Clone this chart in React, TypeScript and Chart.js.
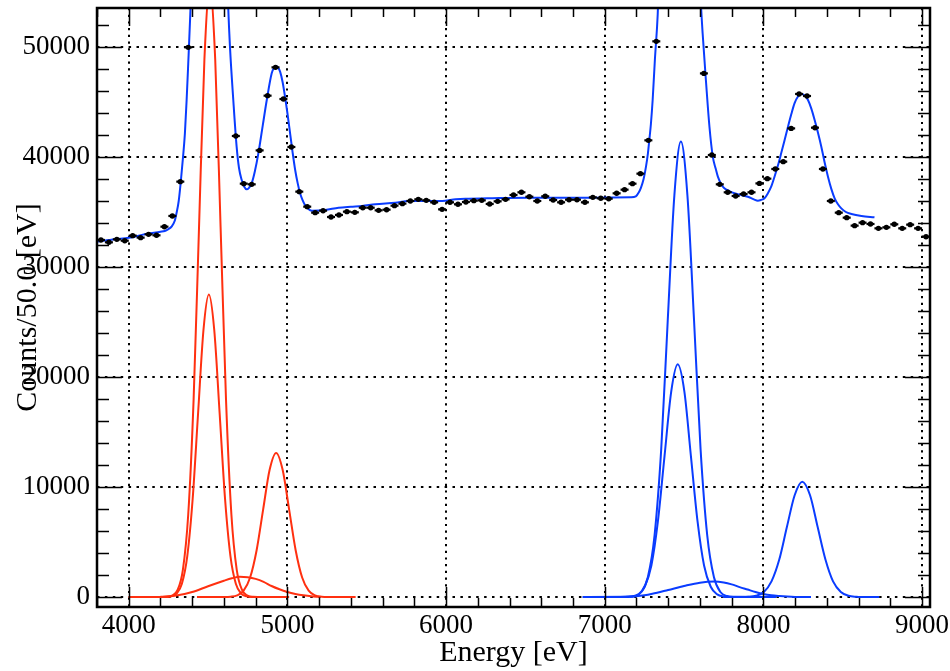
import React, { useEffect, useRef } from "react";
import { Chart, registerables } from "chart.js";

Chart.register(...registerables);

// ---------- axis ranges & ticks ----------
const xRange = [3800, 9050];
const yRange = [-909, 53545];
const xTickValues = [4000, 5000, 6000, 7000, 8000, 9000];
const yTickValues = [0, 10000, 20000, 30000, 40000, 50000];
const xMinorStep = 200;
const yMinorStep = 2000;
const xTitle = "Energy [eV]";
const yTitle = "Counts/50.0 [eV]";

// ---------- histogram (bin centres 3825, 3875, ... 9025) ----------
const binStart = 3825;
const binWidth = 50;
const counts = [
  32455, 32245, 32515, 32390, 32850, 32670, 32970, 32880, 33665, 34640, 37760, 49970,
  80000, 108000, 112000, 88000, 56500,
  41910, 37575, 37515, 40600, 45575, 48150, 45270, 40910, 36850,
  35485, 34940, 35120, 34545, 34730, 35030, 34970, 35390, 35390, 35150,
  35210, 35575, 35760, 36000, 36150, 36060, 35880, 35240, 35880, 35700,
  35910, 36030, 36060, 35730, 35970, 36150, 36545, 36790, 36390, 36000,
  36425, 36090, 35880, 36120, 36120, 35880, 36330, 36245, 36210, 36700,
  37030, 37575, 38485, 41515, 50515,
  70000, 92000, 100000, 90000, 66000,
  47600, 40180, 37515, 36790, 36455, 36635, 36790, 37600, 38030, 38910,
  39575, 42600, 45730, 45545, 42665, 38910, 36000, 34940, 34485, 33760,
  34030, 33910, 33515, 33605, 33880, 33515, 33850, 33515, 32755,
];

// ---------- total fit ----------
const totalFitE = [
  3800, 3912, 4000, 4101, 4200, 4227, 4250, 4270, 4290, 4301, 4315, 4328, 4341, 4354, 4365, 4375,
  4388, 4410, 4450, 4480, 4510, 4540, 4580, 4610, 4626, 4638, 4659, 4680, 4695, 4712, 4728, 4743,
  4758, 4775, 4795, 4817, 4845, 4870, 4901, 4915, 4927, 4940, 4954, 4970, 4985, 5000, 5017, 5033,
  5049, 5065, 5080, 5095, 5112, 5130, 5154, 5238, 5322, 5400, 5470, 5554, 5680, 5764, 5891, 5975,
  6060, 6122, 6260, 6512, 6933, 7165, 7196, 7215, 7228, 7245, 7260, 7272, 7281, 7291, 7302, 7316,
  7334, 7360, 7400, 7440, 7472, 7510, 7550, 7590, 7606, 7617, 7639, 7660, 7681, 7700, 7713, 7735,
  7754, 7785, 7817, 7860, 7902, 7940, 7965, 7985, 8007, 8028, 8049, 8070, 8091, 8112, 8133, 8155,
  8176, 8196, 8218, 8239, 8260, 8281, 8302, 8323, 8344, 8365, 8386, 8407, 8428, 8449, 8470, 8491,
  8520, 8555, 8618, 8700,
];
const totalFitY = [
  32300, 32520, 32650, 32970, 33200, 33270, 33450, 33670, 34200, 34880, 36000, 37750, 39800, 42150, 45200, 48480,
  53000, 62000, 88000, 108000, 116000, 108000, 85000, 62000, 54000, 50030, 45180, 40940, 39000, 37910, 37300, 37060,
  37200, 37610, 38700, 40330, 42900, 45180, 47610, 48100, 48270, 48150, 47760, 46800, 45480, 44000, 42150, 40400,
  38820, 37600, 36700, 36100, 35600, 35300, 35120, 35180, 35390, 35480, 35545, 35700, 35850, 36000, 36000, 36000,
  36150, 36210, 36245, 36300, 36300, 36335, 36420, 36800, 37200, 38000, 39120, 40300, 41545, 43000, 45180, 48820,
  53000, 64000, 82000, 96000, 100000, 94000, 78000, 60000, 54000, 51245, 46700, 42750, 40030, 38900, 38210, 37500,
  37150, 36900, 36700, 36550, 36390, 36150, 36030, 36100, 36250, 36700, 37300, 38210, 39200, 40330, 41500, 42750,
  43900, 44880, 45500, 45730, 45600, 45180, 44400, 43360, 42200, 40940, 39500, 38210, 37100, 36245, 35700, 35330,
  35000, 34820, 34640, 34520,
];

// ---------- red components (first peak group) ----------
const redKa1E = [4000, 4171, 4239, 4273, 4307, 4341, 4375, 4409, 4443, 4477, 4511, 4545, 4579, 4613, 4647, 4681, 4715, 4749, 4783, 4851, 5010];
const redKa1Y = [0, 0, 19, 121, 616, 2434, 7496, 17990, 33600, 48890, 55400, 48890, 33600, 17990, 7496, 2434, 616, 121, 19, 0, 0];
const redKa2E = [4000, 4165, 4233, 4267, 4301, 4335, 4369, 4403, 4437, 4471, 4505, 4539, 4573, 4607, 4641, 4675, 4709, 4743, 4777, 4845, 5000];
const redKa2Y = [0, 0, 9, 60, 306, 1208, 3721, 8929, 16680, 24270, 27500, 24270, 16680, 8929, 3721, 1208, 306, 60, 9, 0, 0];
const redTailE = [4200, 4300, 4400, 4500, 4600, 4650, 4700, 4750, 4800, 4850, 4900, 4950, 5000, 5050, 5100, 5150, 5200];
const redTailY = [20, 140, 450, 980, 1480, 1700, 1840, 1800, 1650, 1380, 1000, 700, 460, 280, 150, 60, 20];
const redKbE = [4430, 4601, 4642, 4683, 4724, 4765, 4806, 4847, 4888, 4929, 4970, 5011, 5052, 5093, 5134, 5175, 5216, 5257, 5430];
const redKbY = [0, 4, 29, 146, 576, 1772, 4254, 7945, 11560, 13100, 11560, 7945, 4254, 1772, 576, 146, 29, 4, 0];

// ---------- blue components (second peak group) ----------
const blueKa1E = [6880, 7148, 7190, 7231, 7272, 7314, 7356, 7397, 7439, 7480, 7521, 7563, 7604, 7646, 7688, 7729, 7770, 7812, 8080];
const blueKa1Y = [0, 14, 91, 460, 1819, 5602, 13440, 25110, 36540, 41400, 36540, 25110, 13440, 5602, 1819, 460, 91, 14, 0];
const blueKa2E = [6860, 7128, 7170, 7211, 7252, 7294, 7335, 7377, 7419, 7460, 7502, 7543, 7585, 7626, 7668, 7709, 7750, 7792, 8060];
const blueKa2Y = [0, 7, 46, 235, 929, 2862, 6867, 12830, 18665, 21150, 18665, 12830, 6867, 2862, 929, 235, 46, 7, 0];
const blueTailE = [7100, 7200, 7250, 7300, 7400, 7500, 7600, 7690, 7750, 7800, 7850, 7900, 7950, 8000, 8050, 8100, 8150, 8200, 8300];
const blueTailY = [0, 60, 150, 290, 640, 1000, 1300, 1400, 1320, 1150, 900, 680, 460, 280, 160, 90, 40, 10, 0];
const blueKbE = [7750, 7857, 7906, 7954, 8003, 8051, 8100, 8148, 8197, 8245, 8294, 8342, 8391, 8439, 8488, 8536, 8585, 8633, 8730];
const blueKbY = [0, 4, 23, 116, 460, 1418, 3403, 6356, 9249, 10480, 9249, 6356, 3403, 1418, 460, 116, 23, 4, 0];

// ---------- styles ----------
const RED = "#ff3010";
const BLUE = "#0a3cff";
const FONT = "'Liberation Serif', 'DejaVu Serif', serif";

const pts = (xs: number[], ys: number[]) => xs.map((x, i) => ({ x, y: ys[i] }));

const curve = (xs: number[], ys: number[], color: string) => ({
  data: pts(xs, ys),
  showLine: true,
  borderColor: color,
  backgroundColor: color,
  borderWidth: 2,
  pointRadius: 0,
  fill: false,
  cubicInterpolationMode: "monotone" as const,
  clip: 0,
});

const rootAxesPlugin = {
  id: "rootAxes",
  afterDraw(chart: any) {
    const { ctx, chartArea: a, scales } = chart;
    const x = scales.x;
    const y = scales.y;
    ctx.save();
    ctx.strokeStyle = "#000";
    ctx.lineWidth = 1.5;
    ctx.beginPath();
    for (let v = xRange[0]; v <= xRange[1]; v += xMinorStep) {
      const px = Math.round(x.getPixelForValue(v)) + 0.5;
      const major = xTickValues.includes(v);
      const len = major ? 20 : 9;
      ctx.moveTo(px, a.bottom);
      ctx.lineTo(px, a.bottom - len);
      ctx.moveTo(px, a.top);
      ctx.lineTo(px, a.top + (major ? 18 : 9));
    }
    for (let v = 0; v <= yRange[1]; v += yMinorStep) {
      const py = Math.round(y.getPixelForValue(v)) + 0.5;
      const major = yTickValues.includes(v);
      const len = major ? 25 : 12;
      ctx.moveTo(a.left, py);
      ctx.lineTo(a.left + len, py);
      ctx.moveTo(a.right, py);
      ctx.lineTo(a.right - len, py);
    }
    ctx.stroke();
    ctx.lineWidth = 2.5;
    ctx.strokeRect(a.left, a.top, a.right - a.left, a.bottom - a.top);
    ctx.restore();
  },
};

export default function App() {
  const ref = useRef<HTMLCanvasElement | null>(null);

  useEffect(() => {
    const canvas = ref.current;
    if (!canvas) return;
    const histo = counts.map((c, i) => ({ x: binStart + i * binWidth, y: c }));
    const chart = new Chart(canvas, {
      type: "scatter",
      data: {
        datasets: [
          {
            data: histo,
            pointStyle: "circle",
            pointRadius: 2.7,
            pointBackgroundColor: "#000",
            pointBorderColor: "#000",
            pointBorderWidth: 0,
            showLine: false,
            clip: 0,
          } as any,
          {
            data: histo,
            pointStyle: "line",
            pointRadius: 4,
            pointBorderColor: "#000",
            pointBorderWidth: 2.2,
            showLine: false,
            clip: 0,
          } as any,
          curve(totalFitE, totalFitY, BLUE),
          curve(redKa1E, redKa1Y, RED),
          curve(redKa2E, redKa2Y, RED),
          curve(redTailE, redTailY, RED),
          curve(redKbE, redKbY, RED),
          curve(blueKa1E, blueKa1Y, BLUE),
          curve(blueKa2E, blueKa2Y, BLUE),
          curve(blueTailE, blueTailY, BLUE),
          curve(blueKbE, blueKbY, BLUE),
        ],
      },
      options: {
        animation: false,
        responsive: false,
        maintainAspectRatio: false,
        events: [],
        layout: { padding: { left: 0, right: 20, top: 8, bottom: 0 } },
        elements: { line: { capBezierPoints: false } },
        plugins: {
          legend: { display: false },
          tooltip: { enabled: false },
          title: { display: false },
        },
        scales: {
          x: {
            type: "linear",
            min: xRange[0],
            max: xRange[1],
            afterBuildTicks: (s: any) => {
              s.ticks = xTickValues.map((v) => ({ value: v }));
            },
            afterFit: (s: any) => {
              s.height = 64;
              s.paddingLeft = 0;
              s.paddingRight = 0;
              s.paddingTop = 0;
              s.paddingBottom = 0;
            },
            ticks: {
              color: "#000",
              font: { family: FONT, size: 27 },
              padding: 3,
              maxRotation: 0,
              autoSkip: false,
              callback: (v: any) => String(v),
            },
            grid: {
              color: "#000",
              lineWidth: 2,
              drawTicks: false,
              drawOnChartArea: true,
            },
            border: { display: false, dash: [2.2, 4.5] },
            title: {
              display: true,
              text: xTitle,
              color: "#000",
              font: { family: FONT, size: 30 },
              padding: { top: 0, bottom: 0 },
            },
          },
          y: {
            type: "linear",
            min: yRange[0],
            max: yRange[1],
            afterBuildTicks: (s: any) => {
              s.ticks = yTickValues.map((v) => ({ value: v }));
            },
            afterFit: (s: any) => {
              s.width = 97;
              s.paddingLeft = 0;
              s.paddingRight = 0;
              s.paddingTop = 0;
              s.paddingBottom = 0;
            },
            ticks: {
              color: "#000",
              font: { family: FONT, size: 27 },
              padding: 7,
              autoSkip: false,
              callback: (v: any) => String(v),
            },
            grid: {
              color: "#000",
              lineWidth: 2,
              drawTicks: false,
              drawOnChartArea: true,
            },
            border: { display: false, dash: [2.5, 5.4] },
            title: {
              display: true,
              text: yTitle,
              color: "#000",
              font: { family: FONT, size: 30 },
              padding: { top: 10, bottom: 0 },
            },
          },
        },
      } as any,
      plugins: [rootAxesPlugin],
    });
    return () => chart.destroy();
  }, []);

  return (
    <div style={{ position: "absolute", left: 0, top: 0, width: 950, height: 671, background: "#fff" }}>
      <canvas ref={ref} width={950} height={671} style={{ display: "block", width: "950px", height: "671px" }} />
    </div>
  );
}
